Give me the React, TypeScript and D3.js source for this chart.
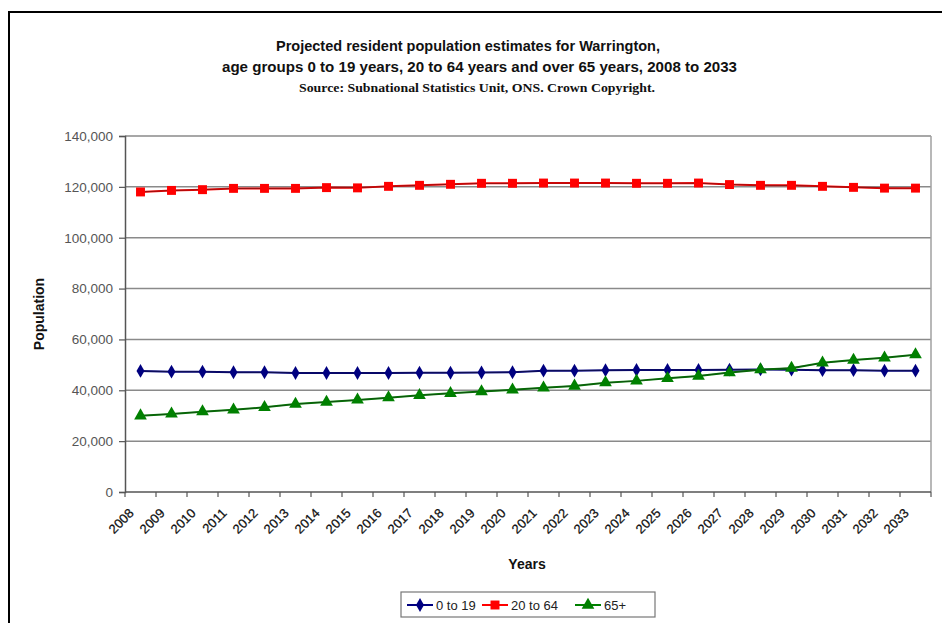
import React, { useEffect, useRef } from "react";
import * as d3 from "d3";

const years = d3.range(2008, 2034).map(String);
const age0to19 = [47600, 47300, 47300, 47100, 47100, 46800, 46800, 46800, 46800, 46900, 46900, 47000, 47100, 47700, 47700, 47900, 48000, 48000, 48000, 48100, 48200, 48100, 47900, 47900, 47700, 47700];
const age20to64 = [118000, 118600, 118900, 119400, 119400, 119400, 119700, 119600, 120200, 120600, 121000, 121400, 121400, 121500, 121500, 121500, 121400, 121400, 121500, 120900, 120600, 120600, 120200, 119800, 119500, 119500];
const age65plus = [30000, 30700, 31600, 32300, 33300, 34600, 35400, 36200, 37100, 38000, 38800, 39500, 40200, 41000, 41700, 43000, 43700, 44700, 45600, 47000, 48100, 48700, 50800, 51900, 52800, 54000];
const yTicks = [0, 20000, 40000, 60000, 80000, 100000, 120000, 140000];
const seriesNames = ["0 to 19", "20 to 64", "65+"];
const titleLines = [
  "Projected resident population estimates for Warrington,",
  "age groups 0 to 19 years, 20 to 64 years and over 65 years, 2008 to 2033",
];
const sourceLine = "Source: Subnational Statistics Unit, ONS. Crown Copyright.";

const W = 942, H = 623;
const left = 125, right = 931, top = 136, bottom = 492;

export default function App() {
  const ref = useRef<SVGSVGElement>(null);
  useEffect(() => {
    const svg = d3.select(ref.current);
    svg.selectAll("*").remove();
    svg.append("rect").attr("width", W).attr("height", H).attr("fill", "#fff");
    svg.append("rect").attr("x", 9).attr("y", 12).attr("width", 960).attr("height", 640)
      .attr("fill", "none").attr("stroke", "#000").attr("stroke-width", 2);

    const font = "'Liberation Sans Narrow', 'Arial Narrow', 'Liberation Sans', Arial, sans-serif";
    const sans = "'Liberation Sans', Arial, sans-serif";
    const titleGeom = [{ cx: 468, len: 384 }, { cx: 479.5, len: 515 }];
    titleLines.forEach((t, i) => {
      svg.append("text").attr("x", titleGeom[i].cx).attr("y", 51 + i * 21).attr("text-anchor", "middle")
        .attr("textLength", titleGeom[i].len).attr("lengthAdjust", "spacingAndGlyphs")
        .attr("font-family", font).attr("font-weight", "bold").attr("font-size", 15).attr("fill", "#111").text(t);
    });
    svg.append("text").attr("x", 477).attr("y", 92).attr("text-anchor", "middle")
      .attr("textLength", 356).attr("lengthAdjust", "spacingAndGlyphs")
      .attr("font-family", "'Liberation Serif', 'Times New Roman', serif").attr("font-weight", "bold").attr("font-size", 12).attr("fill", "#111").text(sourceLine);

    const x = d3.scaleBand().domain(years).range([left, right]);
    const y = d3.scaleLinear().domain([0, 140000]).range([bottom, top]);

    // gridlines
    svg.append("g").selectAll("line").data(yTicks.filter(d => d > 0)).join("line")
      .attr("x1", left).attr("x2", right).attr("y1", d => y(d)).attr("y2", d => y(d))
      .attr("stroke", "#8a8a8a").attr("stroke-width", 1.5);
    svg.append("line").attr("x1", right).attr("x2", right).attr("y1", top).attr("y2", bottom)
      .attr("stroke", "#a0a0a0").attr("stroke-width", 1.5);

    // y axis
    const ya = svg.append("g").attr("transform", `translate(${left},0)`)
      .call(d3.axisLeft(y).tickValues(yTicks).tickSize(6).tickPadding(6).tickFormat(d3.format(",")));
    ya.select(".domain").attr("stroke", "#555").attr("stroke-width", 1.5);
    ya.selectAll(".tick line").attr("stroke", "#555").attr("stroke-width", 1.2);
    ya.selectAll("text").attr("font-family", sans).attr("font-size", 13.5).attr("fill", "#555");

    // x axis
    const xa = svg.append("g").attr("transform", `translate(0,${bottom})`);
    xa.append("line").attr("x1", left).attr("x2", right).attr("stroke", "#555").attr("stroke-width", 1.5);
    const bounds = years.map(yr => x(yr)!).concat([right]);
    xa.selectAll("line.t").data(bounds).join("line").attr("class", "t")
      .attr("x1", d => d).attr("x2", d => d).attr("y1", 0).attr("y2", 5)
      .attr("stroke", "#555").attr("stroke-width", 1.2);
    xa.selectAll("text").data(years).join("text")
      .attr("transform", d => `translate(${x(d)! + x.bandwidth() / 2 - 6},${22}) rotate(-45)`)
      .attr("text-anchor", "end").attr("font-family", sans).attr("font-size", 13).attr("fill", "#111")
      .attr("stroke", "#111").attr("stroke-width", 0.25)
      .text(d => d);

    svg.append("text").attr("transform", `translate(44,${(top + bottom) / 2}) rotate(-90)`)
      .attr("text-anchor", "middle").attr("font-family", sans).attr("font-weight", "bold").attr("font-size", 14)
      .attr("fill", "#111").text("Population");
    svg.append("text").attr("x", 527).attr("y", 569).attr("text-anchor", "middle")
      .attr("font-family", sans).attr("font-weight", "bold").attr("font-size", 14)
      .attr("fill", "#111").text("Years");

    const series = [
      { name: seriesNames[0], values: age0to19, color: "#000080", sym: d3.symbolDiamond, size: 55 },
      { name: seriesNames[1], values: age20to64, color: "#ff0000", sym: d3.symbolSquare, size: 80 },
      { name: seriesNames[2], values: age65plus, color: "#008000", sym: d3.symbolTriangle, size: 70 },
    ];
    const cx = (yr: string) => x(yr)! + x.bandwidth() / 2;
    const line = d3.line<number>().x((_, i) => cx(years[i])).y(d => y(d));
    const smooth = d3.line<number>().x((_, i) => cx(years[i])).y(d => y(d)).curve(d3.curveBasis);
    series.forEach(s => {
      svg.append("path").attr("d", line(s.values)!).attr("fill", "none")
        .attr("stroke", s.color).attr("stroke-width", 2);
      svg.append("path").attr("d", smooth(s.values)!).attr("fill", "none")
        .attr("stroke", "#222").attr("stroke-opacity", 0.5).attr("stroke-width", 1);
      svg.append("g").selectAll("path").data(s.values).join("path")
        .attr("d", d3.symbol().type(s.sym).size(s.size)()!)
        .attr("transform", (d, i) => `translate(${cx(years[i])},${y(d)})`)
        .attr("fill", s.color);
    });

    // legend
    const lg = svg.append("g");
    lg.append("rect").attr("x", 401).attr("y", 592).attr("width", 254).attr("height", 25)
      .attr("fill", "#fff").attr("stroke", "#777").attr("stroke-width", 1.2);
    const lx = [407, 482, 575];
    series.forEach((s, i) => {
      lg.append("line").attr("x1", lx[i]).attr("x2", lx[i] + 26).attr("y1", 605).attr("y2", 605)
        .attr("stroke", s.color).attr("stroke-width", 2);
      lg.append("path").attr("d", d3.symbol().type(s.sym).size(s.size)()!)
        .attr("transform", `translate(${lx[i] + 13},605)`).attr("fill", s.color);
      lg.append("text").attr("x", lx[i] + 29).attr("y", 610).attr("font-family", sans)
        .attr("font-size", 13).attr("fill", "#222").text(s.name);
    });
  }, []);
  return (
    <div style={{ position: "absolute", left: 0, top: 0 }}>
      <svg ref={ref} width={W} height={H} style={{ display: "block" }} />
    </div>
  );
}
